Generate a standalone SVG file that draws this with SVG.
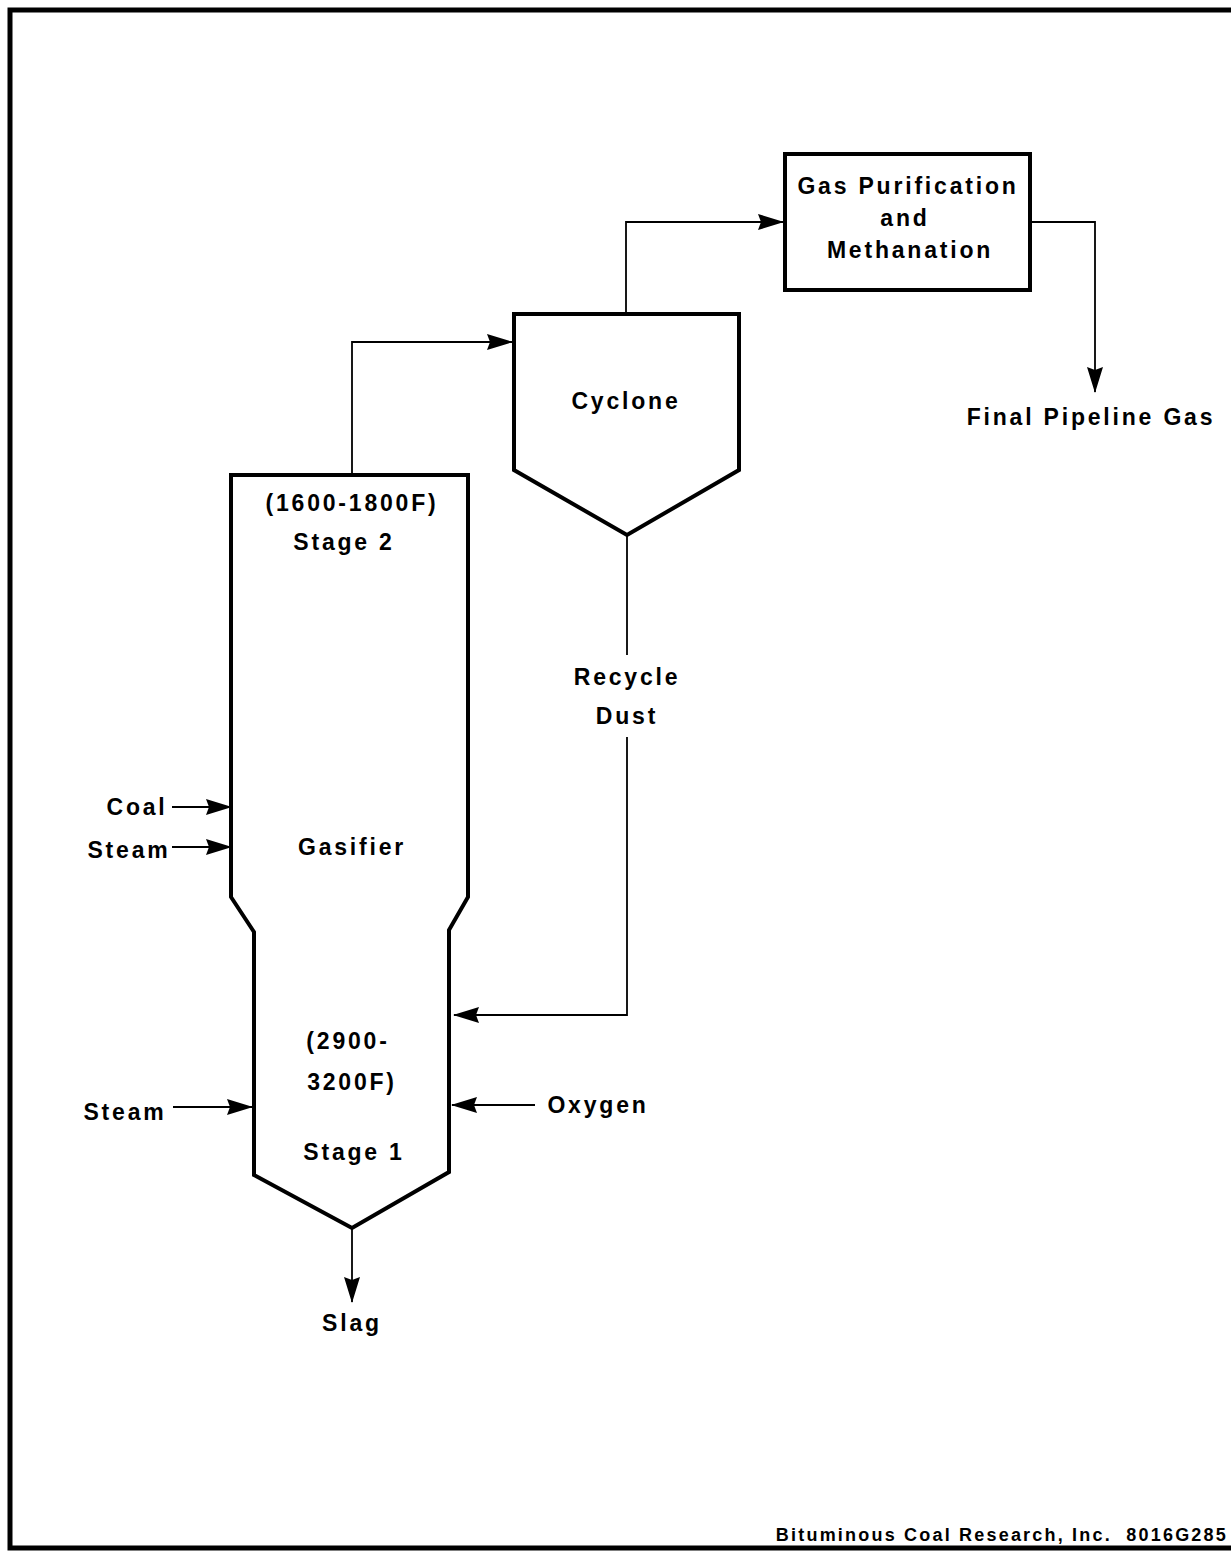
<svg xmlns="http://www.w3.org/2000/svg" width="1231" height="1557" viewBox="0 0 1231 1557">
<style>
text{font-family:"Liberation Sans",Arial,sans-serif;font-weight:bold;font-size:23px;fill:#000;letter-spacing:2.8px;text-anchor:middle;dominant-baseline:central}
.shape{fill:none;stroke:#000;stroke-width:4;stroke-linejoin:miter}
.conn{fill:none;stroke:#000;stroke-width:1.8}
.frame{fill:none;stroke:#000;stroke-width:5}
</style>
<defs>
<marker id="ah" viewBox="0 0 26 16" refX="25" refY="8" markerWidth="26" markerHeight="16" markerUnits="userSpaceOnUse" orient="auto">
<path d="M0,0 L26,8 L0,16 L3,8 Z" fill="#000"/>
</marker>
</defs>
<g id="frame">
<polyline class="frame" points="1231,10 10,10 10,1548 1231,1548"/>
</g>
<g id="connectors">
<polyline class="conn" points="352,475 352,342 512,342" marker-end="url(#ah)"/>
<polyline class="conn" points="626,314 626,222 783,222" marker-end="url(#ah)"/>
<polyline class="conn" points="1030,222 1095,222 1095,392" marker-end="url(#ah)"/>
<polyline class="conn" points="627,535 627,655"/>
<polyline class="conn" points="627,737 627,1015 454,1015" marker-end="url(#ah)"/>
<line class="conn" x1="172" y1="807" x2="231" y2="807" marker-end="url(#ah)"/>
<line class="conn" x1="172" y1="847" x2="231" y2="847" marker-end="url(#ah)"/>
<line class="conn" x1="173" y1="1107" x2="252" y2="1107" marker-end="url(#ah)"/>
<line class="conn" x1="535" y1="1105" x2="452" y2="1105" marker-end="url(#ah)"/>
<line class="conn" x1="352" y1="1228" x2="352" y2="1302" marker-end="url(#ah)"/>
</g>
<g id="gasifier">
<path class="shape" d="M231,475 L468,475 L468,897 L449,930 L449,1172 L352,1228 L254,1175 L254,932 L231,897 Z"/>
<text x="352" y="503">(1600-1800F)</text>
<text x="344" y="542">Stage 2</text>
<text x="352" y="847">Gasifier</text>
<text x="348" y="1041">(2900-</text>
<text x="352" y="1082">3200F)</text>
<text x="354" y="1152">Stage 1</text>
</g>
<g id="cyclone">
<path class="shape" d="M514,314 L739,314 L739,470 L627,535 L514,470 Z"/>
<text x="626" y="401">Cyclone</text>
</g>
<g id="purification">
<rect class="shape" x="785" y="154" width="245" height="136"/>
<text x="908" y="186">Gas Purification</text>
<text x="905" y="218">and</text>
<text x="910" y="250">Methanation</text>
</g>
<g id="labels">
<text x="627" y="677">Recycle</text>
<text x="627" y="716">Dust</text>
<text x="137" y="807">Coal</text>
<text x="129" y="850">Steam</text>
<text x="125" y="1112">Steam</text>
<text x="598" y="1105">Oxygen</text>
<text x="352" y="1323">Slag</text>
<text x="1091" y="417">Final Pipeline Gas</text>
<text x="1228" y="1535" xml:space="preserve" style="font-size:18px;letter-spacing:2.2px;text-anchor:end">Bituminous Coal Research, Inc.  8016G285</text>
</g>
</svg>
